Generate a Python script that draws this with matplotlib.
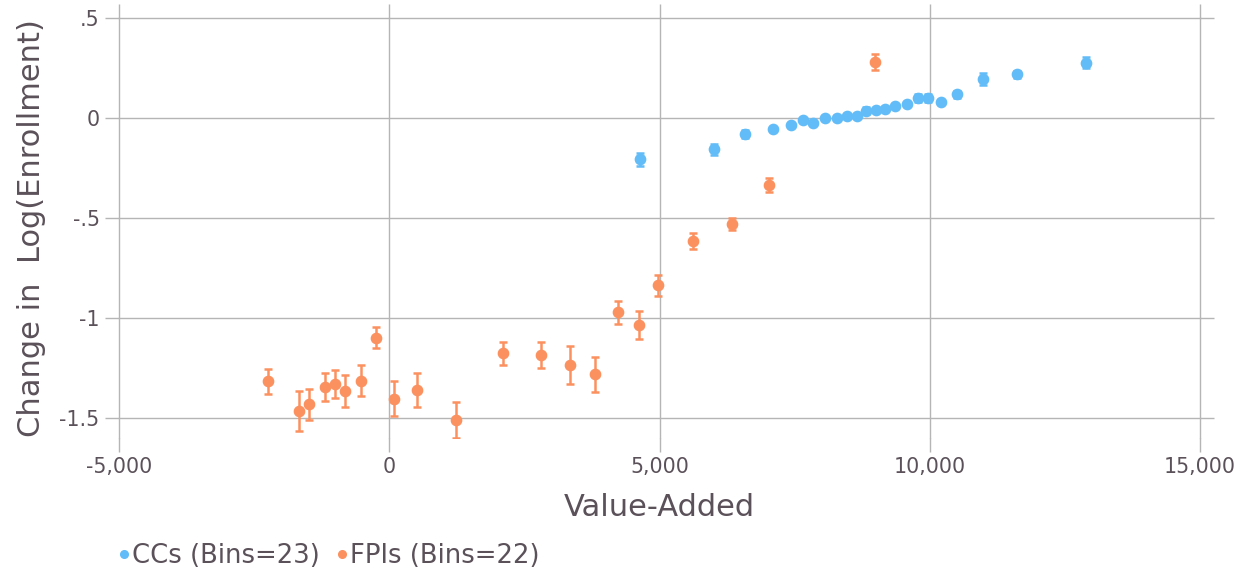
import matplotlib
matplotlib.use("Agg")
import matplotlib.pyplot as plt
from matplotlib.lines import Line2D
from matplotlib.ticker import FuncFormatter

# binned scatter: value-added vs change in log enrollment
cc_x = [4648, 6013, 6574, 7105, 7432, 7648, 7846, 8061, 8278, 8463, 8648, 8827,
        9000, 9173, 9364, 9580, 9784, 9969, 10204, 10500, 10988, 11605, 12889]
cc_y = [-0.207, -0.157, -0.080, -0.057, -0.037, -0.010, -0.027, 0.002, -0.002, 0.010,
        0.010, 0.037, 0.040, 0.045, 0.058, 0.072, 0.098, 0.098, 0.082, 0.118,
        0.195, 0.218, 0.277]
cc_err = [0.032, 0.026, 0.018, 0.010, 0.010, 0.010, 0.010, 0.010, 0.010, 0.010,
          0.010, 0.018, 0.010, 0.010, 0.010, 0.010, 0.020, 0.020, 0.010, 0.016,
          0.032, 0.018, 0.028]

fpi_x = [-2235, -1667, -1481, -1191, -1006, -820, -524, -246, 93, 506, 1241,
         2098, 2815, 3340, 3815, 4228, 4617, 4976, 5624, 6346, 7024, 8987]
fpi_y = [-1.317, -1.463, -1.432, -1.347, -1.330, -1.365, -1.313, -1.098, -1.403,
         -1.360, -1.510, -1.177, -1.185, -1.235, -1.282, -0.972, -1.037, -0.837,
         -0.615, -0.530, -0.335, 0.280]
fpi_err = [0.064, 0.100, 0.078, 0.070, 0.068, 0.078, 0.076, 0.054, 0.086, 0.083,
           0.090, 0.059, 0.064, 0.096, 0.088, 0.058, 0.070, 0.052, 0.040, 0.032,
           0.034, 0.038]

x_ticks = [-5000, 0, 5000, 10000, 15000]
y_ticks = [0.5, 0, -0.5, -1, -1.5]
y_tick_labels = [".5", "0", "-.5", "-1", "-1.5"]

cc_color = "#62bcf8"
fpi_color = "#fc9160"
text_color = "#5b5159"
grid_color = "#b5b5b5"

fig = plt.figure(figsize=(12.49, 5.73), dpi=100)
ax = fig.add_axes([119 / 1249, 1 - 438 / 573, (1200 - 119) / 1249, (438 - 18) / 573])

ax.errorbar(cc_x, cc_y, yerr=cc_err, fmt="o", color=cc_color, ms=7.4,
            elinewidth=1.8, capsize=3.2, capthick=1.8, zorder=3)
ax.errorbar(fpi_x, fpi_y, yerr=fpi_err, fmt="o", color=fpi_color, ms=7.4,
            elinewidth=1.8, capsize=3.2, capthick=1.8, zorder=3)

ax.set_xlim(-5000, 15000)
ax.set_ylim(-1.6, 0.5)
ax.set_xticks(x_ticks)
ax.set_yticks(y_ticks)
ax.set_yticklabels(y_tick_labels)
ax.xaxis.set_major_formatter(FuncFormatter(lambda v, p: f"{int(v):,}"))
ax.grid(True, color=grid_color, lw=1.0)
# keep the grid lines on the plot edges fully drawn
for gl in ax.get_xgridlines() + ax.get_ygridlines():
    gl.set_clip_on(False)
ax.set_axisbelow(True)
for s in ax.spines.values():
    s.set_visible(False)
ax.tick_params(axis="both", which="major", direction="out", length=10,
               width=1.0, color=grid_color, labelcolor=text_color, labelsize=14.8,
               top=True, right=True, pad=4)

ax.set_xlabel("Value-Added", fontsize=22, color=text_color, labelpad=11)
ax.set_ylabel("Change in  Log(Enrollment)", fontsize=22, color=text_color, labelpad=10)

handles = [
    Line2D([], [], ls="none", marker="o", ms=5.5, color=cc_color),
    Line2D([], [], ls="none", marker="o", ms=5.5, color=fpi_color),
]
fig.legend(handles, ["CCs (Bins=23)", "FPIs (Bins=22)"], loc="center left",
           bbox_to_anchor=(120 / 1249, 1 - 556 / 573), ncol=2, frameon=False,
           fontsize=18.6, labelcolor=text_color, handlelength=0.3, handletextpad=0.16,
           columnspacing=0.7, borderpad=0, borderaxespad=0)

fig.savefig("out.png", dpi=100)
